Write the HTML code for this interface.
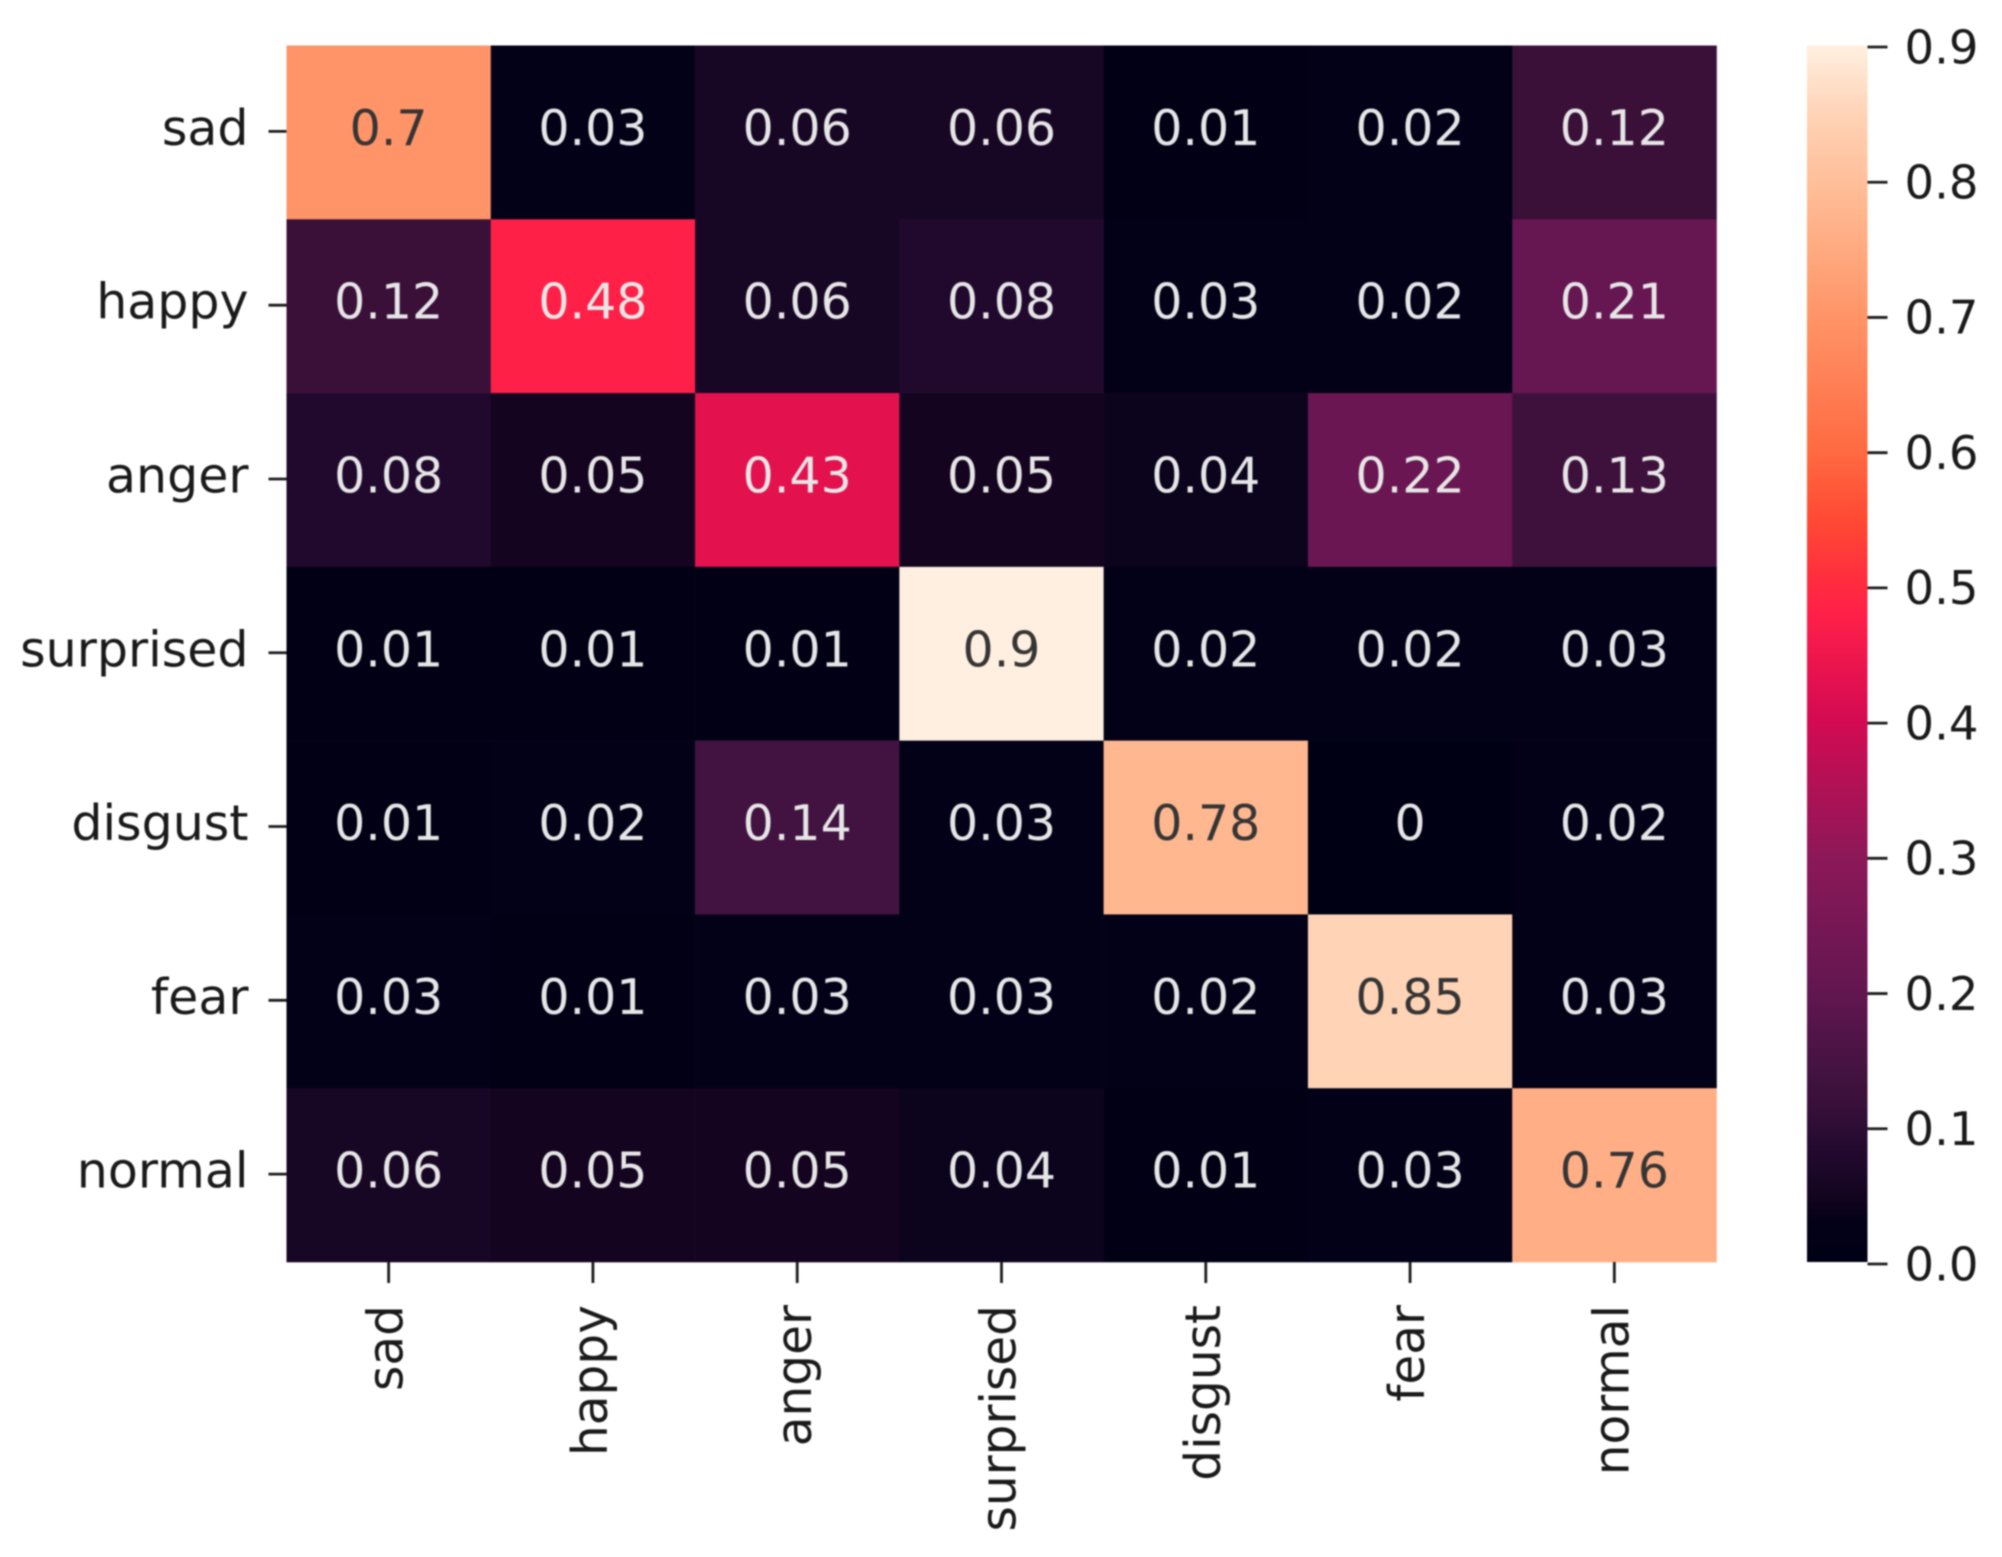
<!DOCTYPE html>
<html>
<head>
<meta charset="utf-8">
<title>Emotion confusion matrix heatmap</title>
<style>
html,body{margin:0;padding:0;background:#fff;}
svg{display:block;filter:blur(0.9px);}
text{font-family:"DejaVu Sans","Liberation Sans",sans-serif;}
</style>
</head>
<body>
<svg id="chart" xmlns="http://www.w3.org/2000/svg" width="2002" height="1557" viewBox="0 0 2002 1557"></svg>
<script>
const rowLabels = ["sad","happy","anger","surprised","disgust","fear","normal"];
const colLabels = ["sad","happy","anger","surprised","disgust","fear","normal"];
const row0 = [0.7,0.03,0.06,0.06,0.01,0.02,0.12];
const row1 = [0.12,0.48,0.06,0.08,0.03,0.02,0.21];
const row2 = [0.08,0.05,0.43,0.05,0.04,0.22,0.13];
const row3 = [0.01,0.01,0.01,0.9,0.02,0.02,0.03];
const row4 = [0.01,0.02,0.14,0.03,0.78,0,0.02];
const row5 = [0.03,0.01,0.03,0.03,0.02,0.85,0.03];
const row6 = [0.06,0.05,0.05,0.04,0.01,0.03,0.76];
const matrix = [row0,row1,row2,row3,row4,row5,row6];
const colorbarTicks = [0,0.1,0.2,0.3,0.4,0.5,0.6,0.7,0.8,0.9];
const colorbarTickLabels = ["0.0","0.1","0.2","0.3","0.4","0.5","0.6","0.7","0.8","0.9"];

const colormap = [
  [0,0,0,20],[0.03,3,1,24],[0.05,20,4,32],[0.08,33,9,46],[0.12,58,16,57],[0.14,66,18,64],
  [0.2,98,22,80],[0.3,140,24,88],[0.4,211,10,82],[0.43,228,17,79],[0.48,255,32,72],
  [0.5,255,42,63],[0.55,255,74,51],[0.6,255,106,66],[0.7,255,148,104],[0.78,255,183,143],
  [0.85,255,211,182],[0.9,255,239,224]
];
const VMIN = 0, VMAX = 0.9;
const HM = {left:286.5,right:1716.5,top:45.5,bottom:1262};
const CB = {left:1807,right:1867.5,top:45.5,bottom:1262,tickZero:1264,tickMax:47};
const FS = 49;
const svg = document.getElementById('chart');
const NS = 'http://www.w3.org/2000/svg';

function xScale(i){ return HM.left + (HM.right-HM.left)*i/colLabels.length; }
function yScale(i){ return HM.top + (HM.bottom-HM.top)*i/rowLabels.length; }
function cbScale(v){ return CB.tickZero + (CB.tickMax-CB.tickZero)*(v-VMIN)/(VMAX-VMIN); }
function colorParts(v){
  let k = Math.max(VMIN,Math.min(VMAX,v));
  for(let i=1;i<colormap.length;i++){
    if(k<=colormap[i][0]){
      const a=colormap[i-1], b=colormap[i], t=(k-a[0])/(b[0]-a[0]);
      return [1,2,3].map(j=>Math.round(a[j]+(b[j]-a[j])*t));
    }
  }
  return colormap[colormap.length-1].slice(1);
}
function colorOf(v){ const c=colorParts(v); return 'rgb('+c[0]+','+c[1]+','+c[2]+')'; }
function lum(v){ const c=colorParts(v); return (0.2126*c[0]+0.7152*c[1]+0.0722*c[2])/255; }
function make(tag,props,parent){
  const el=document.createElementNS(NS,tag);
  for(const k in props){ el.setAttribute(k,props[k]); }
  parent.appendChild(el);
  return el;
}

/* heatmap cells */
const cellsGroup = make('g',{},svg);


matrix.forEach((row,r)=>{
  row.forEach((v,c)=>{
    const rect = make('rect',{x:xScale(c),y:yScale(r),width:xScale(c+1)-xScale(c)+0.3,height:yScale(r+1)-yScale(r)+0.3,fill:colorOf(v)},cellsGroup);
    
    
  });
});

/* cell annotations */
const annGroup = make('g',{},svg);


matrix.forEach((row,r)=>{
  row.forEach((v,c)=>{
    const t = make('text',{
      x:(xScale(c)+xScale(c+1))/2,
      y:(yScale(r)+yScale(r+1))/2+12.5,
      'text-anchor':'middle','font-size':FS,
      fill: lum(v)>0.408 ? '#353535' : '#e6e6e6'
    },annGroup);
    t.textContent=String(v);
    
    
  });
});

/* y axis */
const yAxis = make('g',{},svg);


rowLabels.forEach((name,r)=>{
  const cy=(yScale(r)+yScale(r+1))/2;
  const tick = make('line',{x1:HM.left-18,x2:HM.left,y1:cy-1,y2:cy-1,stroke:'#1e1e1e','stroke-width':2.8},yAxis);
  
  
  const label = make('text',{x:HM.left-38,y:cy+12.5,'text-anchor':'end','font-size':FS,fill:'#1a1a1a'},yAxis);
  label.textContent=name;
  
  
});

/* x axis */
const xAxis = make('g',{},svg);


colLabels.forEach((name,c)=>{
  const cx=(xScale(c)+xScale(c+1))/2;
  const tick = make('line',{x1:cx,x2:cx,y1:HM.bottom,y2:HM.bottom+21,stroke:'#1e1e1e','stroke-width':2.8},xAxis);
  
  
  const bx=cx+14, by=1305;
  const label = make('text',{x:bx,y:by,transform:'rotate(-90 '+bx+' '+by+')','text-anchor':'end','font-size':48.6,fill:'#1a1a1a'},xAxis);
  label.textContent=name;
  
  
});

/* colorbar */
const defs = make('defs',{},svg);
const grad = make('linearGradient',{id:'cbGrad',x1:0,y1:1,x2:0,y2:0},defs);
colormap.forEach(s=>{
  make('stop',{offset:(s[0]-VMIN)/(VMAX-VMIN),'stop-color':colorOf(s[0])},grad);
});
const cbGroup = make('g',{},svg);


const cbRect = make('rect',{x:CB.left,y:CB.top,width:CB.right-CB.left,height:CB.bottom-CB.top,fill:'url(#cbGrad)'},cbGroup);


colorbarTicks.forEach((v,i)=>{
  const y=cbScale(v);
  const tick = make('line',{x1:CB.right,x2:CB.right+20,y1:y,y2:y,stroke:'#1e1e1e','stroke-width':2.8},cbGroup);
  
  
  const label = make('text',{x:CB.right+37,y:y+16.3,'font-size':46.5,fill:'#1a1a1a'},cbGroup);
  label.textContent=colorbarTickLabels[i];
  
  
});
</script>
</body>
</html>
